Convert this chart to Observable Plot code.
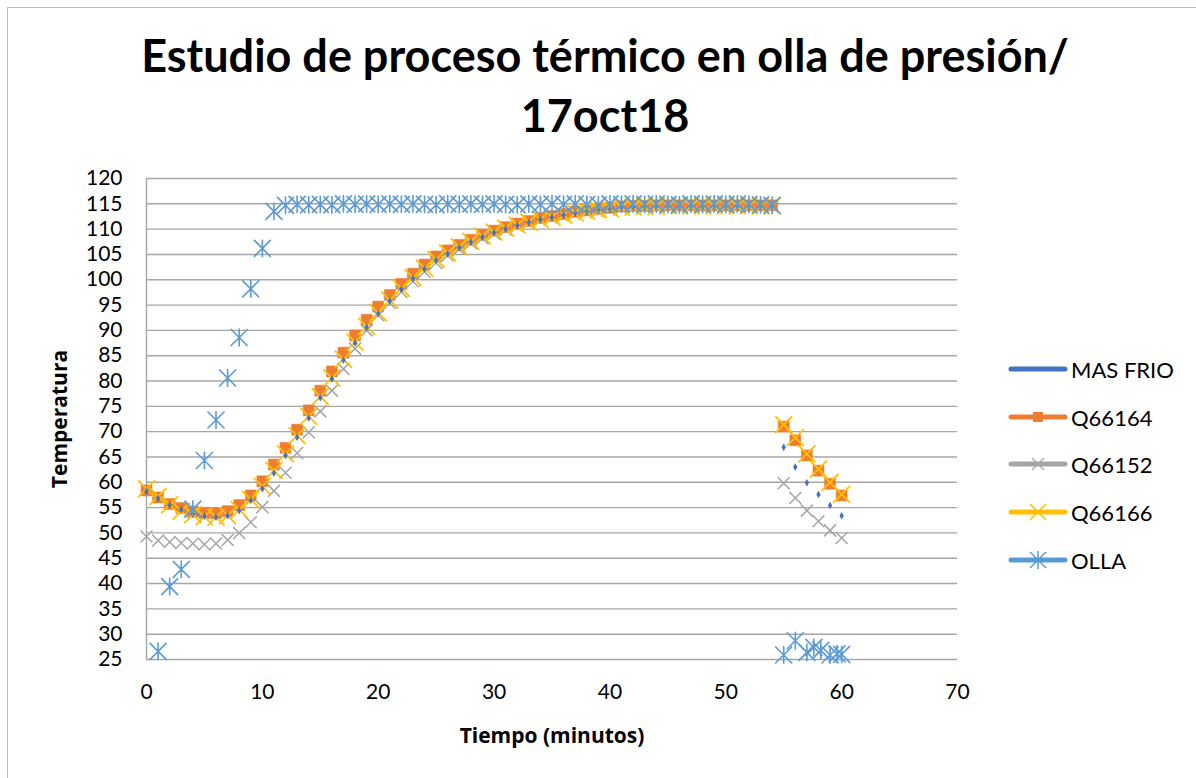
<!DOCTYPE html>
<html>
<head>
<meta charset="utf-8">
<script src="https://cdn.jsdelivr.net/npm/d3@7"></script>
<script src="https://cdn.jsdelivr.net/npm/@observablehq/plot@0.6"></script>
<style>
html,body{margin:0;padding:0;background:#fff;overflow:hidden;}
#wrap{position:relative;width:1196px;height:778px;font-family:Lato,"Open Sans",sans-serif;color:#000;overflow:hidden;background:#fff;}
#frame{position:absolute;left:7px;top:7px;width:1400px;height:1000px;border:1.5px solid #bfbfbf;box-sizing:border-box;pointer-events:none;}
#title{position:relative;height:150px;}
.tl{position:absolute;left:0;width:1210px;text-align:center;font-weight:700;font-size:45px;line-height:1;white-space:nowrap;}
#legend{position:absolute;left:1008px;top:0;}
.lg{position:absolute;left:0;height:24px;display:flex;align-items:center;font-size:22px;white-space:nowrap;}
.lg svg{display:block;margin-right:3px;}
#chart svg{display:block;}
</style>
</head>
<body>
<div id="wrap">
  <div id="frame"></div>
  <div id="title">
    <div class="tl" style="top:33px">Estudio de proceso térmico en olla de presión/</div>
    <div class="tl" style="top:93px">17oct18</div>
  </div>
  <div id="chart"></div>
  <div id="legend"></div>
</div>
<script>
// ---- data ----
const seriesNames = ["MAS FRIO", "Q66164", "Q66152", "Q66166", "OLLA"];
const seriesColors = ["#4472C4", "#ED7D31", "#A5A5A5", "#FFC000", "#5B9BD5"];

const minutesA = [0,1,2,3,4,5,6,7,8,9,10,11,12,13,14,15,16,17,18,19,20,21,22,23,24,25,26,27,28,29,30,31,32,33,34,35,36,37,38,39,40,41,42,43,44,45,46,47,48,49,50,51,52,53,54];
const minutesB = [55,56,57,58,59,60];

const masFrioA = [58.2,56.8,55.5,54.6,53.8,53.3,53.1,53.4,54.4,56.4,
  58.7,61.8,65.3,68.9,72.7,76.7,80.4,84.1,87.5,90.6,
  93.3,95.8,98.1,100.2,102.1,103.8,105.1,106.3,107.4,108.4,
  109.3,110.0,110.7,111.3,111.9,112.3,112.8,113.2,113.5,113.8,
  114.0,114.3,114.4,114.5,114.5,114.6,114.6,114.6,114.6,114.6,
  114.6,114.6,114.6,114.6,114.6];
const masFrioB = [66.9,63.0,59.9,57.6,55.4,53.4];

const q66164A = [58.4,57.0,55.7,54.9,54.2,53.9,53.9,54.3,55.5,57.4,
  60.2,63.5,66.8,70.4,74.2,78.1,81.9,85.6,89.0,92.1,
  94.7,97.0,99.2,101.2,103.0,104.6,105.8,106.9,107.9,108.9,
  109.7,110.4,111.1,111.6,112.2,112.6,113.0,113.4,113.7,114.0,
  114.2,114.5,114.6,114.6,114.7,114.7,114.7,114.7,114.7,114.7,
  114.7,114.7,114.7,114.7,114.7];
const q66164B = [71.0,68.3,65.3,62.3,59.7,57.4];

const q66152A = [49.3,48.5,48.2,48.0,47.9,47.7,47.9,48.6,50.0,52.1,
  55.1,58.3,61.9,65.8,69.9,74.0,78.1,82.4,86.4,90.0,
  93.0,95.4,97.6,99.7,101.6,103.3,104.8,106.1,107.2,108.2,
  109.1,109.9,110.6,111.2,111.8,112.3,112.7,113.1,113.4,113.7,
  114.0,114.2,114.3,114.4,114.4,114.5,114.5,114.5,114.5,114.5,
  114.5,114.5,114.5,114.5,114.5];
const q66152B = [59.8,56.9,54.4,52.3,50.5,49.0];

const q66166A = [58.7,57.2,55.6,54.3,53.6,53.2,53.1,53.4,54.6,56.6,
  59.2,62.3,65.6,69.2,73.0,76.9,80.6,84.3,87.7,90.8,
  93.5,96.0,98.3,100.4,102.3,104.0,105.3,106.5,107.6,108.6,
  109.4,110.2,110.8,111.4,111.9,112.4,112.8,113.2,113.5,113.8,
  114.1,114.3,114.4,114.5,114.5,114.6,114.6,114.6,114.6,114.6,
  114.6,114.6,114.6,114.6,114.6];
const q66166B = [71.4,68.8,65.6,62.6,60.0,57.6];

const ollaMinutesA = [1,2,3,4,5,6,7,8,9,10,11,12,13,14,15,16,17,18,19,20,21,22,23,24,25,26,27,28,29,30,31,32,33,34,35,36,37,38,39,40,41,42,43,44,45,46,47,48,49,50,51,52,53,54];
const ollaA = [26.6,39.4,42.8,54.7,64.3,72.3,80.6,88.6,98.2,106.2,
  113.5,114.7,114.9,114.8,114.9,114.8,115.0,114.9,115.0,114.9,
  115.0,114.9,115.0,114.9,114.8,115.0,114.9,115.0,114.9,115.0,
  114.9,114.8,115.0,114.9,115.0,114.9,115.0,114.9,114.8,115.0,
  114.9,115.0,114.9,115.0,114.9,114.8,115.0,114.9,115.0,114.9,
  115.0,114.9,114.8,114.7];
const ollaMinutesB = [55,56,57,57.6,58.2,59,59.6,60];
const ollaB = [25.9,28.7,26.4,27.4,26.8,25.9,26.1,26.0];

const xTicks = [0,10,20,30,40,50,60,70];
const yTicks = [25,30,35,40,45,50,55,60,65,70,75,80,85,90,95,100,105,110,115,120];

// ---- build rows ----
function rows(ts, vs) { return ts.map((t, i) => ({t, v: vs[i]})); }
const dMas = rows(minutesA, masFrioA).concat(rows(minutesB, masFrioB));
const d164 = rows(minutesA, q66164A).concat(rows(minutesB, q66164B));
const d152 = rows(minutesA, q66152A).concat(rows(minutesB, q66152B));
const d166 = rows(minutesA, q66166A).concat(rows(minutesB, q66166B));
const dOlla = rows(ollaMinutesA, ollaA).concat(rows(ollaMinutesB, ollaB));

// Excel-like star marker: X plus vertical bar (half-size = r)
const starSymbol = {
  draw(ctx, size) {
    const r = Math.sqrt(size / Math.PI);
    ctx.moveTo(-r, -r); ctx.lineTo(r, r);
    ctx.moveTo(-r, r); ctx.lineTo(r, -r);
    ctx.moveTo(0, -r * 1.05); ctx.lineTo(0, r * 1.05);
  }
};
const xSymbol = {
  draw(ctx, size) {
    const r = Math.sqrt(size / Math.PI);
    ctx.moveTo(-r, -r); ctx.lineTo(r, r);
    ctx.moveTo(-r, r); ctx.lineTo(r, -r);
  }
};

const plot = Plot.plot({
  width: 1196,
  height: 628,
  marginLeft: 146,
  marginRight: 239,
  marginTop: 28,
  marginBottom: 119,
  x: {domain: [0, 70]},
  y: {domain: [25, 120]},
  style: {fontFamily: "Lato, 'Open Sans', sans-serif", fontSize: "21px", color: "#000", background: "transparent", overflow: "visible"},
  marks: [
    Plot.gridY(yTicks, {stroke: "#a6a6a6", strokeOpacity: 1, strokeWidth: 1.4}),
    Plot.ruleX([0], {stroke: "#a6a6a6", strokeWidth: 1.4}),
    Plot.axisX(xTicks, {tickSize: 0, tickPadding: 25, label: null, fontSize: 21}),
    Plot.axisY(yTicks, {tickSize: 0, tickPadding: 24, label: null, fontSize: 21}),
    Plot.dot(d164, {x: "t", y: "v", symbol: "square", r: 6.2, fill: "#ED7D31", stroke: "#ED7D31", strokeWidth: 0.5}),
    Plot.dot(d152, {x: "t", y: "v", symbol: xSymbol, r: 6, fill: "none", stroke: "#A5A5A5", strokeWidth: 1.5}),
    Plot.dot(d166, {x: "t", y: "v", symbol: xSymbol, r: 8.5, fill: "none", stroke: "#FFC000", strokeWidth: 1.8}),
    Plot.dot(dMas, {x: "t", y: "v", symbol: "diamond", r: 2.3, fill: "#4472C4", stroke: "none"}),
    Plot.dot(dOlla, {x: "t", y: "v", symbol: starSymbol, r: 8.5, fill: "none", stroke: "#5B9BD5", strokeWidth: 1.6}),
    Plot.text(["Tiempo (minutos)"], {frameAnchor: "bottom", dy: 77, lineAnchor: "middle", textAnchor: "middle", fontWeight: "bold", fontSize: 21, fontFamily: "'Open Sans', Lato, sans-serif"}),
    Plot.text(["Temperatura"], {frameAnchor: "left", dx: -86, rotate: -90, lineAnchor: "middle", textAnchor: "middle", fontWeight: "bold", fontSize: 21, fontFamily: "'Open Sans', Lato, sans-serif"})
  ]
});
document.getElementById("chart").appendChild(plot);

// ---- legend ----
const legendCenters = [369, 417, 464, 512, 560];
const legend = d3.select("#legend");
seriesNames.forEach((name, i) => {
  const row = legend.append("div").attr("class", "lg").style("top", (legendCenters[i] - 12) + "px");
  const svg = row.append("svg").attr("width", 60).attr("height", 24);
  const c = seriesColors[i];
  svg.append("line").attr("x1", 3).attr("x2", 57).attr("y1", 12).attr("y2", 12)
    .attr("stroke", c).attr("stroke-width", 5).attr("stroke-linecap", "round");
  const g = svg.append("g").attr("transform", "translate(30,12)");
  if (name === "Q66164") {
    g.append("rect").attr("x", -5).attr("y", -5).attr("width", 10).attr("height", 10).attr("fill", c);
  } else if (name === "Q66152") {
    g.append("path").attr("d", "M-6,-6L6,6M-6,6L6,-6").attr("stroke", c).attr("stroke-width", 1.4).attr("fill", "none");
  } else if (name === "Q66166") {
    g.append("path").attr("d", "M-8,-8L8,8M-8,8L8,-8").attr("stroke", c).attr("stroke-width", 1.6).attr("fill", "none");
  } else if (name === "OLLA") {
    g.append("path").attr("d", "M-8,-8L8,8M-8,8L8,-8M0,-9L0,9").attr("stroke", c).attr("stroke-width", 1.5).attr("fill", "none");
  }
  row.append("span").text(name);
});
</script>
</body>
</html>
